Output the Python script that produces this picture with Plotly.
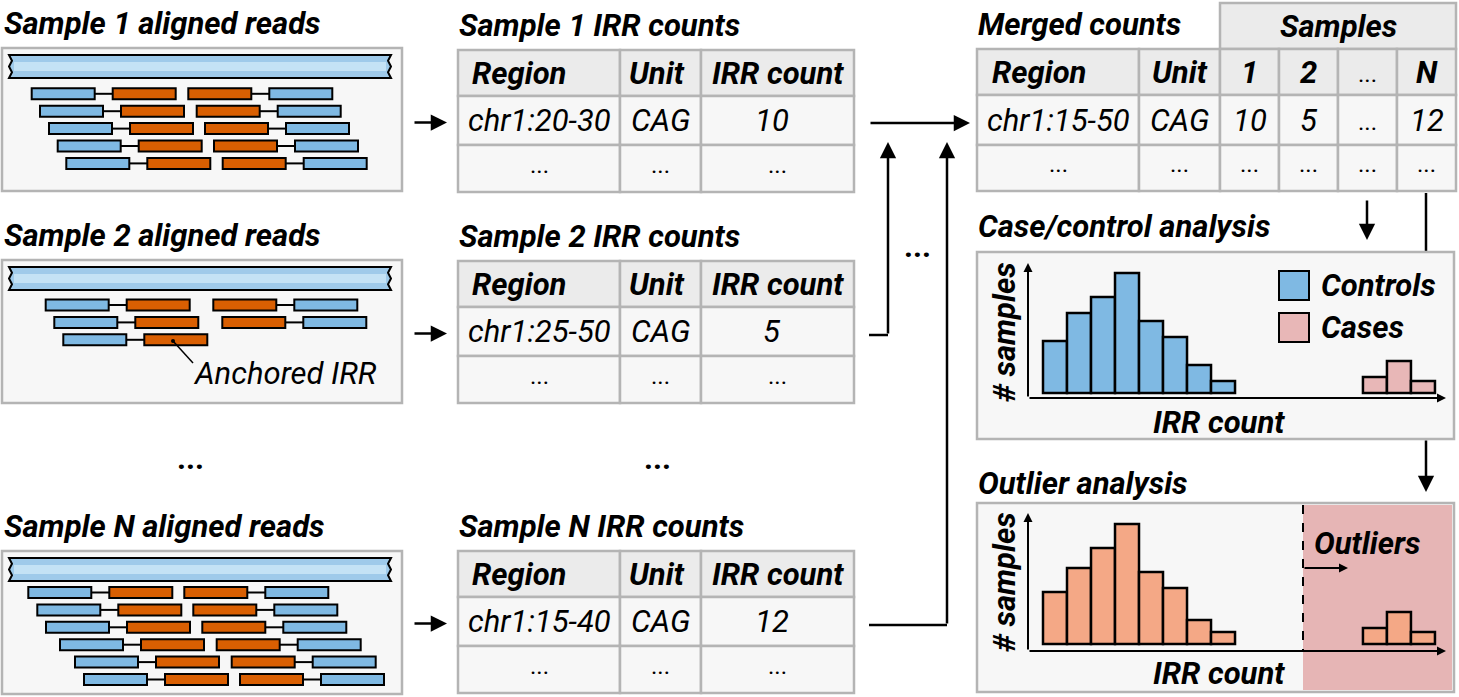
import plotly.graph_objects as go

# ---- data -------------------------------------------------------------
panel_titles = ["Sample 1 aligned reads", "Sample 2 aligned reads", "Sample N aligned reads"]
table_titles = ["Sample 1 IRR counts", "Sample 2 IRR counts", "Sample N IRR counts"]

# read-pair alignment starts (left pair / right pair) for each row
reads_1_left = [31.7, 40.0, 49.0, 57.7, 66.3]
reads_1_right = [188.3, 196.7, 205.0, 214.0, 222.7]
reads_2_left = [45.7, 54.3, 63.3]
reads_2_right = [213.3, 222.3, None]
reads_n_left = [28.3, 37.3, 46.0, 60.0, 75.0, 84.0]
reads_n_right = [184.3, 193.3, 202.3, 216.7, 231.7, 240.0]

table_header = ["Region", "Unit", "IRR count"]
sample_regions = ["chr1:20-30", "chr1:25-50", "chr1:15-40"]
sample_units = ["CAG", "CAG", "CAG"]
sample_counts = ["10", "5", "12"]

merged_header = ["Region", "Unit", "1", "2", "...", "N"]
merged_row = ["chr1:15-50", "CAG", "10", "5", "...", "12"]

controls_counts = [13, 20, 24, 30, 18, 14, 7, 3]
cases_counts = [4, 8, 3]
all_counts = [13, 19, 24, 30, 18, 14, 6, 3]
outlier_counts = [4, 8, 3]
control_bins = [0.5, 1.5, 2.5, 3.5, 4.5, 5.5, 6.5, 7.5]
case_bins = [13.83, 14.83, 15.83]

# ---- style ------------------------------------------------------------
W, H = 1459, 697
FONT = "Roboto"
FS = 31
BLUE = "#7fb9e3"
ORANGE = "#d95f02"
PINK = "#e8b7b7"
SALMON = "#f4a886"
SHADE = "#e6b5b5"
BOX_FILL = "#f7f7f7"
BOX_LINE = "#b4b4b4"
HEAD_FILL = "#ebebeb"

shapes = []
annotations = []


def rect(x0, y0, x1, y1, fill, line="black", lw=2, dash=None):
    shapes.append(dict(type="rect", xref="x", yref="y", x0=x0, y0=y0, x1=x1, y1=y1,
                       fillcolor=fill, line=dict(color=line, width=lw, dash=dash),
                       layer="below"))


def line(x0, y0, x1, y1, color="black", lw=2.5, dash=None):
    shapes.append(dict(type="line", xref="x", yref="y", x0=x0, y0=y0, x1=x1, y1=y1,
                       line=dict(color=color, width=lw, dash=dash), layer="below"))


def text(x, y, s, size=FS, anchor="left", angle=0):
    annotations.append(dict(x=x, y=y, xref="x", yref="y", text=s, showarrow=False,
                            xanchor=anchor, yanchor="middle", textangle=angle,
                            font=dict(family=FONT, size=size, color="black")))


def arrow(x0, y0, x1, y1, lw=2.5, size=1.3):
    annotations.append(dict(x=x1, y=y1, ax=x0, ay=y0, xref="x", yref="y",
                            axref="x", ayref="y", text="", showarrow=True,
                            arrowhead=2, arrowsize=size, arrowwidth=lw,
                            arrowcolor="black", standoff=0, startstandoff=0))


def ref_bar(x0, y0, x1, y1):
    h = y1 - y0
    z = 3
    path = (f"M{x0},{y0} L{x1},{y0} L{x1-z},{y0+h/4} L{x1},{y0+h/2} L{x1-z},{y0+3*h/4} "
            f"L{x1},{y1} L{x0},{y1} L{x0+z},{y0+3*h/4} L{x0},{y0+h/2} L{x0+z},{y0+h/4} Z")
    shapes.append(dict(type="path", xref="x", yref="y", path=path, fillcolor="#9fcaea",
                       line=dict(color="black", width=2), layer="below"))
    shapes.append(dict(type="rect", xref="x", yref="y", x0=x0 + 5, x1=x1 - 5,
                       y0=y0 + h * 0.3, y1=y1 - h * 0.3, fillcolor="#c4e2f5",
                       line=dict(width=0), layer="below"))


def read_panel(top, left_starts, right_starts, row_y0, title):
    text(2, top - 25, f"<b><i>{title}</i></b>")
    rect(2, top, 402, top + 143, BOX_FILL, BOX_LINE, 2.5)
    ref_bar(9, top + 7, 391, top + 30)
    for i, (ls, rs) in enumerate(zip(left_starts, right_starts)):
        yc = row_y0 + i * 17.4
        y0, y1 = yc - 5.5, yc + 5.5
        line(ls + 63, yc, ls + 81, yc, lw=2)
        rect(ls, y0, ls + 63, y1, BLUE)
        rect(ls + 81, y0, ls + 144, y1, ORANGE)
        if rs is not None:
            line(rs + 63, yc, rs + 81, yc, lw=2)
            rect(rs, y0, rs + 63, y1, ORANGE)
            rect(rs + 81, y0, rs + 144, y1, BLUE)


read_panel(48, reads_1_left, reads_1_right, 93.8, panel_titles[0])
read_panel(260, reads_2_left, reads_2_right, 305.0, panel_titles[1])
read_panel(551, reads_n_left, reads_n_right, 592.5, panel_titles[2])

# anchored IRR label
shapes.append(dict(type="circle", xref="x", yref="y", x0=171, x1=175, y0=339, y1=343,
                   fillcolor="black", line=dict(width=0), layer="below"))
line(173, 341, 193, 363, lw=1.5)
text(191, 373, "<i>Anchored IRR</i>")

# vertical ellipses
text(190, 458, "<b>...</b>", anchor="center")
text(657, 458, "<b>...</b>", anchor="center")


# ---- sample tables ------------------------------------------------------
def sample_table(top, i):
    text(457, top - 25, f"<b><i>{table_titles[i]}</i></b>")
    cols = [458, 620, 701, 854]
    rows = [top, top + 46, top + 95, top + 142]
    for r in range(3):
        for c in range(3):
            rect(cols[c], rows[r], cols[c + 1], rows[r + 1],
                 HEAD_FILL if r == 0 else BOX_FILL, BOX_LINE, 2.5)
    hy = (rows[0] + rows[1]) / 2
    dy = (rows[1] + rows[2]) / 2
    ey = (rows[2] + rows[3]) / 2
    text(cols[0] + 12, hy, f"<b><i>{table_header[0]}</i></b>")
    text((cols[1] + cols[2]) / 2 - 4, hy, f"<b><i>{table_header[1]}</i></b>", anchor="center")
    text((cols[2] + cols[3]) / 2, hy, f"<b><i>{table_header[2]}</i></b>", anchor="center")
    text((cols[0] + cols[1]) / 2, dy, f"<i>{sample_regions[i]}</i>", anchor="center")
    text((cols[1] + cols[2]) / 2, dy, f"<i>{sample_units[i]}</i>", anchor="center")
    text((cols[2] + cols[3]) / 2 - 6, dy, f"<i>{sample_counts[i]}</i>", anchor="center")
    for c in range(3):
        text((cols[c] + cols[c + 1]) / 2, ey - 4, "...", size=24, anchor="center")
    return dy


row_y = [sample_table(50, 0), sample_table(261, 1), sample_table(551, 2)]

# ---- merged table --------------------------------------------------------
text(976, 24, "<b><i>Merged counts</i></b>")
mcols = [977, 1139, 1220, 1279, 1338, 1397, 1456]
mrows = [49, 95, 145, 191]
rect(1220, 3, 1456, 49, HEAD_FILL, BOX_LINE, 2.5)
text((1220 + 1456) / 2, 26, "<b><i>Samples</i></b>", anchor="center")
for r in range(3):
    for c in range(6):
        rect(mcols[c], mrows[r], mcols[c + 1], mrows[r + 1],
             HEAD_FILL if r == 0 else BOX_FILL, BOX_LINE, 2.5)
for c in range(6):
    cx = (mcols[c] + mcols[c + 1]) / 2
    if c == 0:
        text(mcols[0] + 13, 72, f"<b><i>{merged_header[c]}</i></b>")
    elif merged_header[c] == "...":
        text(cx, 74, "...", size=24, anchor="center")
    else:
        text(cx, 72, f"<b><i>{merged_header[c]}</i></b>", anchor="center")
    if merged_row[c] == "...":
        text(cx, 122, "...", size=24, anchor="center")
    else:
        text(cx, 120, f"<i>{merged_row[c]}</i>", anchor="center")
    text(cx, 164, "...", size=24, anchor="center")

# ---- flow arrows -----------------------------------------------------------
for y in row_y:
    arrow(413, y + 2, 447, y + 2)
arrow(869, 123, 970, 123)
line(869, 335, 888, 335)
arrow(888, 335, 888, 142)
line(869, 625, 947, 625)
arrow(947, 625, 947, 142)
text(917, 246, "<b>...</b>", anchor="center")
arrow(1367, 199, 1367, 240)
line(1426, 193, 1426, 252)
arrow(1426, 439, 1426, 492)

# ---- case / control panel -------------------------------------------------
text(976, 226, "<b><i>Case/control analysis</i></b>")
rect(977, 252, 1454, 439, BOX_FILL, BOX_LINE, 2.5)
arrow(1028, 398, 1028, 263, lw=2, size=0.9)
arrow(1028, 398, 1446, 398, lw=2, size=0.9)
text(1004, 332, "<b><i># samples</i></b>", anchor="center", angle=-90)
text(1219, 422, "<b><i>IRR count</i></b>", anchor="center")
rect(1279, 271, 1309, 300, BLUE)
rect(1279, 313, 1309, 342, PINK)
text(1319, 285, "<b><i>Controls</i></b>")
text(1319, 327, "<b><i>Cases</i></b>")

# ---- outlier panel -------------------------------------------------------
text(976, 483, "<b><i>Outlier analysis</i></b>")
rect(977, 503, 1454, 692, BOX_FILL, BOX_LINE, 2.5)
rect(1303, 505, 1452, 690, SHADE, SHADE, 0)
line(1303, 505, 1303, 651, lw=2, dash="dash")
arrow(1028, 651, 1028, 513, lw=2, size=0.9)
arrow(1028, 651, 1446, 651, lw=2, size=0.9)
text(1004, 582, "<b><i># samples</i></b>", anchor="center", angle=-90)
text(1219, 673, "<b><i>IRR count</i></b>", anchor="center")
text(1312, 543, "<b><i>Outliers</i></b>")
arrow(1303, 568, 1348, 568, lw=2, size=0.9)

# ---- histograms ------------------------------------------------------------
bar_line = dict(color="black", width=2.5)
fig = go.Figure()
fig.add_trace(go.Bar(x=control_bins, y=controls_counts, width=1, marker=dict(color=BLUE, line=bar_line),
                     xaxis="x2", yaxis="y2", showlegend=False))
fig.add_trace(go.Bar(x=case_bins, y=cases_counts, width=1, marker=dict(color=PINK, line=bar_line),
                     xaxis="x2", yaxis="y2", showlegend=False))
fig.add_trace(go.Bar(x=control_bins, y=all_counts, width=1, marker=dict(color=SALMON, line=bar_line),
                     xaxis="x3", yaxis="y3", showlegend=False))
fig.add_trace(go.Bar(x=case_bins, y=outlier_counts, width=1, marker=dict(color=SALMON, line=bar_line),
                     xaxis="x3", yaxis="y3", showlegend=False))
# invisible anchor trace for the main canvas axes
fig.add_trace(go.Scatter(x=[0, W], y=[0, H], mode="markers", marker=dict(opacity=0),
                         showlegend=False, hoverinfo="skip"))


def xdom(px0, px1):
    return [px0 / W, px1 / W]


def ydom(py_bottom, py_top):
    return [1 - py_bottom / H, 1 - py_top / H]


hidden = dict(visible=False, showgrid=False, zeroline=False, fixedrange=True)
fig.update_layout(
    width=W, height=H,
    margin=dict(l=0, r=0, t=0, b=0),
    paper_bgcolor="white", plot_bgcolor="rgba(0,0,0,0)",
    xaxis=dict(range=[0, W], domain=[0, 1], **hidden),
    yaxis=dict(range=[H, 0], domain=[0, 1], **hidden),
    xaxis2=dict(range=[-0.625, 16.79], domain=xdom(1028, 1446), anchor="y2", **hidden),
    yaxis2=dict(range=[-1.25, 32.5], domain=ydom(398, 263), anchor="x2", **hidden),
    xaxis3=dict(range=[-0.625, 16.79], domain=xdom(1028, 1446), anchor="y3", **hidden),
    yaxis3=dict(range=[-1.75, 32.75], domain=ydom(651, 513), anchor="x3", **hidden),
    shapes=shapes,
    annotations=annotations,
    showlegend=False,
    font=dict(family=FONT),
)

# drop the default page margin so the figure fills the window exactly
fig.write_html("out.html", config={"displayModeBar": False},
               post_script="document.body.style.margin = '0';")
